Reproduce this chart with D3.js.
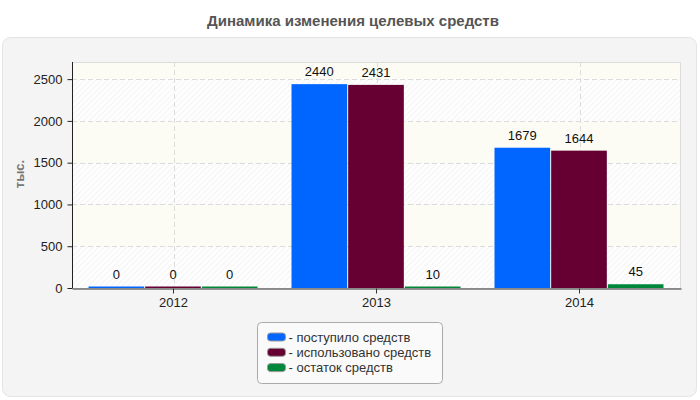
<!DOCTYPE html>
<html>
<head>
<meta charset="utf-8">
<script src="https://cdn.jsdelivr.net/npm/d3@7"></script>
<style>
  body { margin: 0; background: #fff; }
  svg { display: block; font-family: "Liberation Sans", Arial, sans-serif; }
</style>
</head>
<body>
<div id="chart"></div>
<script>
var years = ["2012", "2013", "2014"];
var seriesNames = ["- поступило средств", "- использовано средств", "- остаток средств"];
var received = [0, 2440, 1679];
var used = [0, 2431, 1644];
var remainder = [0, 10, 45];
var yTicks = [0, 500, 1000, 1500, 2000, 2500];
var colors = ["#0066ff", "#660033", "#00873a"];

var W = 700, H = 400;
var margin = {l: 72, r: 19, t: 62, b: 112};

var svg = d3.select("#chart").append("svg")
	.attr("width", W).attr("height", H);

var defs = svg.append("defs");
var pat = defs.append("pattern")
	.attr("id", "hatch").attr("patternUnits", "userSpaceOnUse")
	.attr("width", 4).attr("height", 4)
	.attr("patternTransform", "rotate(45)");
pat.append("rect").attr("width", 4).attr("height", 4).attr("fill", "#fefefe");
pat.append("line").attr("x1", 0).attr("y1", 0).attr("x2", 0).attr("y2", 4)
	.attr("stroke", "#eeeeee").attr("stroke-width", 1.2);

// panel
svg.append("rect")
	.attr("x", 2.5).attr("y", 37.5).attr("width", 694).attr("height", 359)
	.attr("rx", 8).attr("fill", "#f4f4f4").attr("stroke", "#e4e4e4");

svg.append("text")
	.attr("x", 353).attr("y", 26).attr("text-anchor", "middle")
	.style("font-size", "15px").style("font-weight", "bold").style("fill", "#555")
	.text("Динамика изменения целевых средств");

var X = d3.scaleBand().domain(years).range([margin.l, W - margin.r]);
var inner = d3.scaleBand().domain(d3.range(3)).range([16.5, X.bandwidth() - 16.5]);
var Y = d3.scaleLinear().domain([0, 2705]).range([H - margin.b, margin.t]);

// alternating bands
var bandEdges = yTicks.concat([Y.domain()[1]]);
svg.selectAll(".band").data(d3.range(bandEdges.length - 1)).enter().append("rect")
	.attr("x", margin.l).attr("width", W - margin.r - margin.l)
	.attr("y", function(i){ return Y(bandEdges[i + 1]); })
	.attr("height", function(i){ return Y(bandEdges[i]) - Y(bandEdges[i + 1]); })
	.attr("fill", function(i){ return i % 2 == 0 ? "url(#hatch)" : "#fcfcf5"; });

svg.append("rect")
	.attr("x", margin.l + 0.5).attr("y", margin.t + 0.5)
	.attr("width", W - margin.r - margin.l - 1).attr("height", H - margin.b - margin.t)
	.attr("fill", "none").attr("stroke", "#dddddd");

// grid
svg.selectAll(".hgrid").data(yTicks.slice(1)).enter().append("line")
	.attr("x1", margin.l).attr("x2", W - margin.r)
	.attr("y1", function(d){ return Math.round(Y(d)) + 0.5; })
	.attr("y2", function(d){ return Math.round(Y(d)) + 0.5; })
	.attr("stroke", "#dcdcdc").attr("stroke-dasharray", "5,3");

svg.selectAll(".vgrid").data(years).enter().append("line")
	.attr("x1", function(d){ return Math.round(X(d) + X.bandwidth() / 2) + 0.5; })
	.attr("x2", function(d){ return Math.round(X(d) + X.bandwidth() / 2) + 0.5; })
	.attr("y1", margin.t).attr("y2", H - margin.b)
	.attr("stroke", "#dcdcdc").attr("stroke-dasharray", "5,3");

// bars
var series = [received, used, remainder];
var bars = [];
series.forEach(function(s, si){
	s.forEach(function(v, yi){ bars.push({s: si, year: years[yi], v: v}); });
});

function barTop(d){ return Math.min(Y(d.v), Y(0) - 1.5); }

svg.selectAll(".bar").data(bars).enter().append("rect")
	.attr("x", function(d){ return X(d.year) + inner(d.s); })
	.attr("width", inner.bandwidth() - 1)
	.attr("y", barTop)
	.attr("height", function(d){ return Y(0) - barTop(d); })
	.attr("fill", function(d){ return colors[d.s]; });

svg.selectAll(".val").data(bars).enter().append("text")
	.attr("x", function(d){ return X(d.year) + inner(d.s) + (inner.bandwidth() - 1) / 2; })
	.attr("y", function(d){ return barTop(d) - 8; })
	.attr("text-anchor", "middle")
	.style("font-size", "13px").style("fill", "#111")
	.text(function(d){ return d.v; });

// axes
var yAxis = svg.append("g").attr("transform", "translate(" + (margin.l + 0.5) + ",0)")
	.call(d3.axisLeft(Y).tickValues(yTicks).tickFormat(d3.format("d")).tickSize(5).tickPadding(5));
yAxis.select(".domain").attr("stroke", "#222").attr("d", "M0," + margin.t + "V" + (H - margin.b));
yAxis.selectAll("line").attr("stroke", "#222");
yAxis.selectAll("text").style("font-size", "13px").style("fill", "#222")
	.style("font-family", "Liberation Sans, Arial, sans-serif");

var xAxis = svg.append("g").attr("transform", "translate(0," + (H - margin.b + 0.5) + ")")
	.call(d3.axisBottom(X).tickSize(5).tickPadding(4).tickSizeOuter(0));
xAxis.select(".domain").attr("stroke", "#333");
xAxis.selectAll("line").attr("stroke", "#333");
xAxis.selectAll("text").style("font-size", "13px").style("fill", "#222")
	.style("font-family", "Liberation Sans, Arial, sans-serif");

svg.append("text")
	.attr("transform", "translate(24,174) rotate(-90)")
	.attr("text-anchor", "middle")
	.style("font-size", "13px").style("font-weight", "bold").style("fill", "#777")
	.text("тыс.");

// legend
var lg = svg.append("g").attr("transform", "translate(257.5,322.5)");
lg.append("rect").attr("width", 185).attr("height", 61).attr("rx", 4)
	.attr("fill", "#fafafa").attr("stroke", "#aaaaaa");
var items = lg.selectAll(".item").data(seriesNames).enter().append("g")
	.attr("transform", function(d, i){ return "translate(10," + (14.5 + i * 15.3) + ")"; });
items.append("rect").attr("x", 0).attr("y", -4).attr("width", 18).attr("height", 8).attr("rx", 3)
	.attr("fill", function(d, i){ return colors[i]; }).attr("stroke", "#999");
items.append("text").attr("x", 21).attr("y", 4.5)
	.style("font-size", "13px").style("fill", "#333")
	.text(function(d){ return d; });
</script>
</body>
</html>
